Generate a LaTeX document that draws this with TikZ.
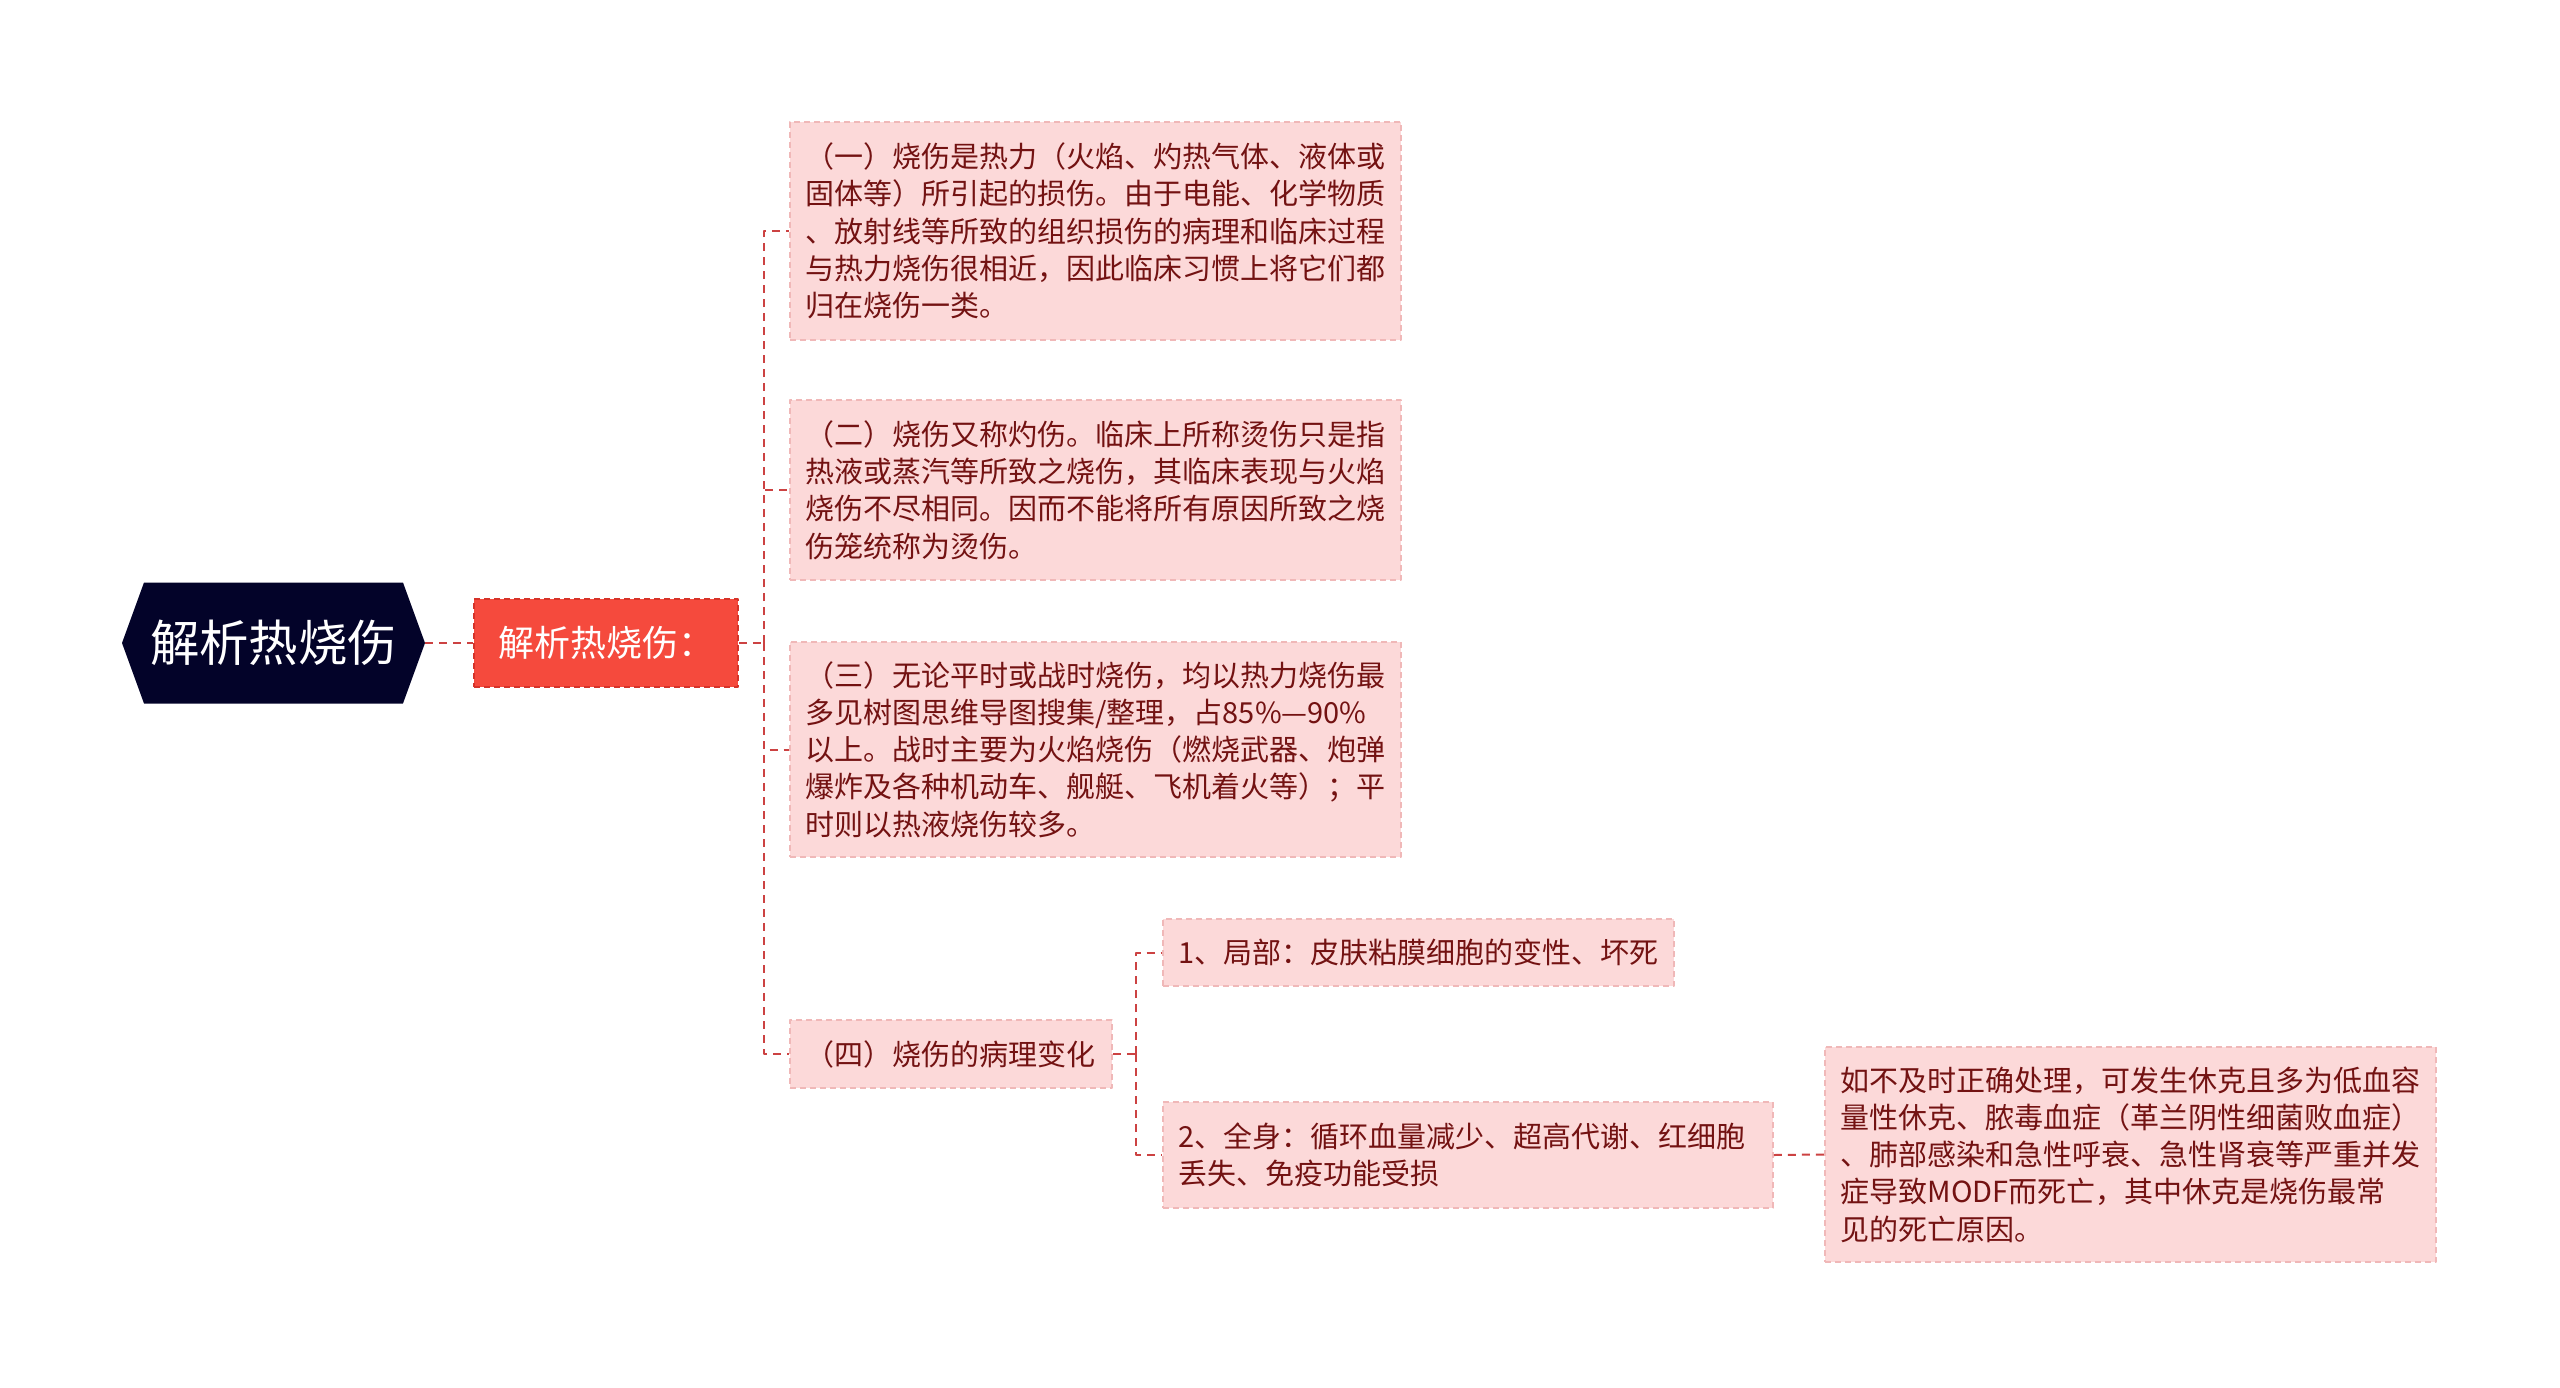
\documentclass[tikz,border=0pt]{standalone}
\usepackage{fontspec}
\setmainfont{Noto Sans CJK SC}
\usetikzlibrary{shapes.symbols}
\definecolor{rootcol}{rgb}{0.01,0.01,0.16}
\definecolor{maincol}{rgb}{0.96,0.29,0.24}
\definecolor{mainedge}{rgb}{0.84,0.20,0.16}
\definecolor{itemfill}{rgb}{0.99,0.85,0.85}
\definecolor{itemedge}{rgb}{0.94,0.72,0.72}
\definecolor{itemtext}{rgb}{0.45,0.07,0.07}
\definecolor{linkcol}{rgb}{0.80,0.26,0.26}
\begin{document}
\begin{tikzpicture}[line join=bevel,
  topic/.style={shape=signal, signal to=west and east, signal pointer angle=140,
    fill=rootcol, text=white, font=\fontsize{24.7bp}{30bp}\selectfont,
    minimum width=151.5bp, minimum height=60.5bp, inner sep=0pt},
  subtopic/.style={fill=maincol, draw=mainedge, dash pattern=on 3bp off 2bp, line width=0.75bp,
    text=white, font=\fontsize{18bp}{22bp}\selectfont,
    minimum width=132bp, minimum height=44bp, inner sep=0pt},
  item/.style={fill=itemfill, draw=itemedge, dash pattern=on 3bp off 2bp, line width=0.75bp,
    text=itemtext, font=\fontsize{14.5bp}{18.6bp}\selectfont, align=left,
    inner xsep=7.75bp, inner ysep=0pt},
  link/.style={draw=linkcol, line width=1bp, dash pattern=on 4bp off 3bp}]
\useasboundingbox (0bp,0bp) rectangle (1280bp,-694bp);
%%
  % Node: root
  \node[topic] (root) at (136.75bp,-321.5bp) {解析热烧伤};
  % Node: main
  \node[subtopic] (main) at (303bp,-321.5bp) {解析热烧伤：};
  % Node: burn1
  \node[item, text width=290bp, minimum height=109bp] (burn1) at (547.75bp,-115.5bp)
    {（一）烧伤是热力（火焰、灼热气体、液体或\\固体等）所引起的损伤。由于电能、化学物质\\、放射线等所致的组织损伤的病理和临床过程\\与热力烧伤很相近，因此临床习惯上将它们都\\归在烧伤一类。};
  % Node: burn2
  \node[item, text width=290bp, minimum height=90bp] (burn2) at (547.75bp,-245bp)
    {（二）烧伤又称灼伤。临床上所称烫伤只是指\\热液或蒸汽等所致之烧伤，其临床表现与火焰\\烧伤不尽相同。因而不能将所有原因所致之烧\\伤笼统称为烫伤。};
  % Node: burn3
  \node[item, text width=290bp, minimum height=107.5bp] (burn3) at (547.75bp,-374.75bp)
    {（三）无论平时或战时烧伤，均以热力烧伤最\\多见树图思维导图搜集/整理，占85\%—90\%\\以上。战时主要为火焰烧伤（燃烧武器、炮弹\\爆炸及各种机动车、舰艇、飞机着火等）；平\\时则以热液烧伤较多。};
  % Node: burn4
  \node[item, text width=145.5bp, minimum height=34bp] (burn4) at (475.5bp,-527bp)
    {（四）烧伤的病理变化};
  % Node: local
  \node[item, text width=240bp, minimum height=33.5bp] (local) at (709.25bp,-476.25bp)
    {1、局部：皮肤粘膜细胞的变性、坏死};
  % Node: whole
  \node[item, text width=289.5bp, minimum height=53bp] (whole) at (734bp,-577.5bp)
    {2、全身：循环血量减少、超高代谢、红细胞\\丢失、免疫功能受损};
  % Node: death
  \node[item, text width=290bp, minimum height=107.5bp] (death) at (1065.25bp,-577.25bp)
    {如不及时正确处理，可发生休克且多为低血容\\量性休克、脓毒血症（革兰阴性细菌败血症）\\、肺部感染和急性呼衰、急性肾衰等严重并发\\症导致MODF而死亡，其中休克是烧伤最常\\见的死亡原因。};
  \coordinate (trunk) at (382bp,-321.5bp);
  \coordinate (fork) at (568bp,-527bp);
  % Edge: root -> main
  \draw[link] (root.east) -- (main.west);
  % Edge: main -> burn1..burn4
  \draw[link] (main.east) -- (trunk);
  \draw[link] (trunk) |- (burn1.west);
  \draw[link] (trunk) |- (burn2.west);
  \draw[link] (trunk) |- (burn3.west);
  \draw[link] (trunk) |- (burn4.west);
  % Edge: burn4 -> local, whole
  \draw[link] (burn4.east) -- (fork);
  \draw[link] (fork) |- (local.west);
  \draw[link] (fork) |- (whole.west);
  % Edge: whole -> death
  \draw[link] (whole.east) -- (death.west);
%
\end{tikzpicture}
\end{document}
